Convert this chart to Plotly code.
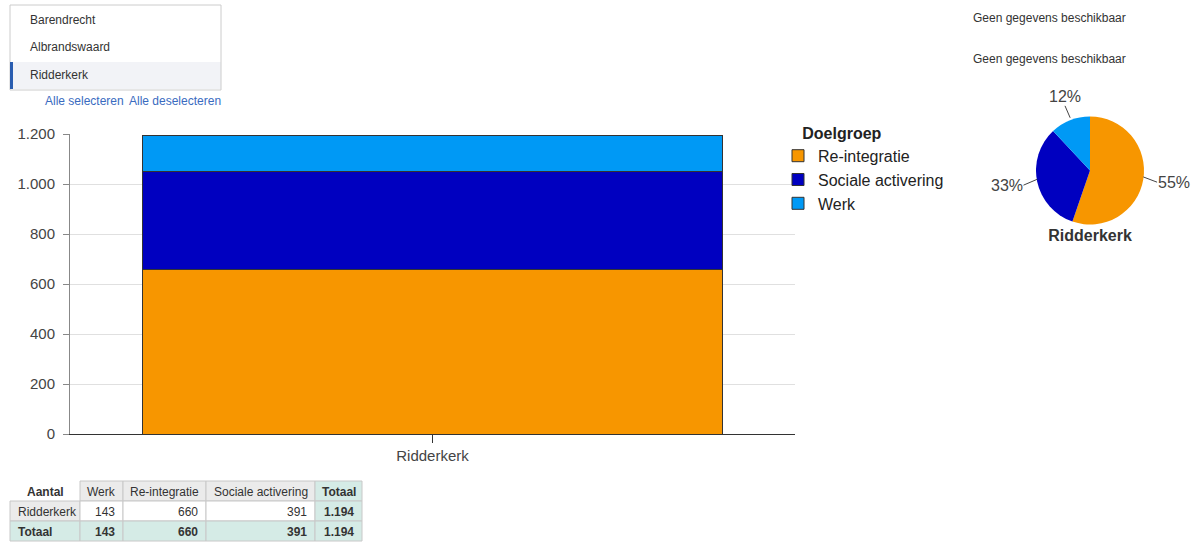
import math
import plotly.graph_objects as go

W, H = 1192, 542

# ---------------- data ----------------
gemeenten = ["Barendrecht", "Albrandswaard", "Ridderkerk"]
categorie = ["Ridderkerk"]
doelgroepen = ["Re-integratie", "Sociale activering", "Werk"]
re_integratie = [660]
sociale_activering = [391]
werk = [143]
y_ticks = [0, 200, 400, 600, 800, 1000, 1200]
kleuren = {"Re-integratie": "#f79600", "Sociale activering": "#0000c0", "Werk": "#0099f5"}
tabel_kolommen = ["Aantal", "Werk", "Re-integratie", "Sociale activering", "Totaal"]


def px_x(p):
    return p / W


def px_y(p):
    return 1 - p / H


def nl(v):
    return f"{v:,}".replace(",", ".")


fig = go.Figure()

series = {"Re-integratie": re_integratie, "Sociale activering": sociale_activering, "Werk": werk}
for name in doelgroepen:
    fig.add_trace(go.Bar(
        x=categorie, y=series[name], name=name,
        marker=dict(color=kleuren[name], line=dict(color="#333333", width=1)),
        width=0.8, hoverinfo="skip",
    ))

# ---------------- pie ----------------
PIE_CX, PIE_CY, PIE_R = 1090, 168, 54
TITLE_H = 22
pie_vals = [re_integratie[0], sociale_activering[0], werk[0]]
fig.add_trace(go.Pie(
    labels=doelgroepen, values=pie_vals, sort=False, direction="clockwise", rotation=0,
    marker=dict(colors=[kleuren[n] for n in doelgroepen]),
    textinfo="none", showlegend=False, hoverinfo="skip",
    title=dict(text="<b>Ridderkerk</b>", position="bottom center",
               font=dict(family="Arial", size=16, color="#333333")),
    domain=dict(x=[px_x(PIE_CX - PIE_R), px_x(PIE_CX + PIE_R)],
                y=[px_y(PIE_CY + PIE_R + TITLE_H), px_y(PIE_CY - PIE_R)]),
))

annotations = []
shapes = []
tot = sum(pie_vals)
cum = 0
for v in pie_vals:
    mid = (cum + v / 2) / tot * 2 * math.pi
    cum += v
    s, c = math.sin(mid), math.cos(mid)
    ex, ey = PIE_CX + PIE_R * s, PIE_CY - PIE_R * c
    xa = "left" if s > 0.5 else ("right" if s < -0.5 else "center")
    ya = "bottom" if c > 0.5 else ("top" if c < -0.5 else "middle")
    annotations.append(dict(
        text=f"{round(100 * v / tot)}%", x=px_x(ex), y=px_y(ey), xref="paper", yref="paper",
        showarrow=True, arrowhead=0, arrowwidth=1, arrowcolor="#444444",
        ax=14 * s, ay=-14 * c + 3 * abs(s), axref="pixel", ayref="pixel",
        xanchor=xa, yanchor=ya, borderpad=0,
        font=dict(family="Arial", size=16, color="#444444"),
    ))

# ---------------- table (cells laid out from column widths) ----------------
TEAL = "#d5ebe6"
GREY = "#ebebeb"
LINE = "#c8c8c8"
TXT = "#333333"
COL_W = [70, 43, 83, 109, 47]
TX0, TY0, ROW_H = 10, 481, 20
totaal_rij = werk[0] + re_integratie[0] + sociale_activering[0]
rows = [
    tabel_kolommen,
    [categorie[0], nl(werk[0]), nl(re_integratie[0]), nl(sociale_activering[0]), nl(totaal_rij)],
    ["Totaal", nl(sum(werk)), nl(sum(re_integratie)), nl(sum(sociale_activering)), nl(totaal_rij)],
]
fills = [
    ["white", GREY, GREY, GREY, TEAL],
    [GREY, "white", "white", "white", TEAL],
    [TEAL, TEAL, TEAL, TEAL, TEAL],
]
bold = [
    [True, False, False, False, True],
    [False, False, False, False, True],
    [True, True, True, True, True],
]
edges = [TX0]
for w in COL_W:
    edges.append(edges[-1] + w)
for r, row in enumerate(rows):
    y0, y1 = TY0 + r * ROW_H, TY0 + (r + 1) * ROW_H
    for ci, val in enumerate(row):
        x0, x1 = edges[ci], edges[ci + 1]
        border = "rgba(0,0,0,0)" if (r == 0 and ci == 0) else LINE
        shapes.append(dict(type="rect", xref="paper", yref="paper",
                           x0=px_x(x0), x1=px_x(x1), y0=px_y(y1), y1=px_y(y0),
                           fillcolor=fills[r][ci], line=dict(color=border, width=1)))
        if r == 0:
            ax_, xa = (x0 + x1) / 2, "center"
        elif ci == 0:
            ax_, xa = x0 + 6, "left"
        else:
            ax_, xa = x1 - 6, "right"
        annotations.append(dict(text=f"<b>{val}</b>" if bold[r][ci] else val,
                                x=px_x(ax_), y=px_y((y0 + y1) / 2 + 0.5), xref="paper", yref="paper",
                                xanchor=xa, yanchor="middle", showarrow=False,
                                font=dict(family="Arial", size=12, color=TXT)))

# ---------------- selection list (UI) ----------------
shapes.append(dict(type="rect", xref="paper", yref="paper", x0=px_x(10), x1=px_x(221), y0=px_y(62), y1=px_y(89),
                   fillcolor="#f2f3f7", line=dict(width=0), layer="below"))
shapes.append(dict(type="rect", xref="paper", yref="paper", x0=px_x(10), x1=px_x(221), y0=px_y(90), y1=px_y(5),
                   fillcolor="rgba(0,0,0,0)", line=dict(color="#cccccc", width=1)))
shapes.append(dict(type="rect", xref="paper", yref="paper", x0=px_x(10), x1=px_x(13), y0=px_y(62), y1=px_y(89),
                   fillcolor="#2a5db0", line=dict(width=0)))
for i, g in enumerate(gemeenten):
    annotations.append(dict(text=g, x=px_x(28), y=px_y(20 + 27.5 * i), xref="paper", yref="paper",
                            xanchor="left", yanchor="middle", showarrow=False,
                            font=dict(family="Arial", size=12, color="#333333")))
annotations.append(dict(text="Alle selecteren", x=px_x(43), y=px_y(101), xref="paper", yref="paper",
                        xanchor="left", yanchor="middle", showarrow=False,
                        font=dict(family="Arial", size=12, color="#3a6bbf")))
annotations.append(dict(text="Alle deselecteren", x=px_x(223), y=px_y(101), xref="paper", yref="paper",
                        xanchor="right", yanchor="middle", showarrow=False,
                        font=dict(family="Arial", size=12, color="#3a6bbf")))
for yy in (18, 59):
    annotations.append(dict(text="Geen gegevens beschikbaar", x=px_x(971), y=px_y(yy), xref="paper", yref="paper",
                            xanchor="left", yanchor="middle", showarrow=False,
                            font=dict(family="Arial", size=12, color="#333333")))

fig.update_layout(
    width=W, height=H, margin=dict(l=0, r=0, t=0, b=0, pad=0, autoexpand=False),
    paper_bgcolor="white", plot_bgcolor="white",
    barmode="stack", separators=",.",
    font=dict(family="Arial", color="#444444"),
    xaxis=dict(domain=[px_x(70), px_x(795)], showline=True, linecolor="#333333", linewidth=1,
               ticks="outside", ticklen=8, tickcolor="#333333", automargin=False, ticklabelstandoff=0,
               tickfont=dict(family="Arial", size=15, color="#444444"), fixedrange=True),
    yaxis=dict(domain=[px_y(434), px_y(134)], range=[0, 1200], tickvals=y_ticks,
               tickformat=",d", showline=True, linecolor="#888888", linewidth=1,
               ticks="outside", ticklen=6, tickcolor="#888888", automargin=False, ticklabelstandoff=5,
               gridcolor="#e0e0e0", zeroline=False,
               tickfont=dict(family="Arial", size=15, color="#444444"), fixedrange=True),
    legend=dict(x=px_x(778), y=px_y(118), xanchor="left", yanchor="top", traceorder="normal",
                title=dict(text="\u00a0" * 5 + "<b>Doelgroep</b>",
                           font=dict(family="Arial", size=16, color="#222222")),
                font=dict(family="Arial", size=16, color="#222222"),
                itemwidth=30, tracegroupgap=0, bgcolor="rgba(0,0,0,0)"),
    shapes=shapes, annotations=annotations,
)

fig.write_html("out.html", post_script="document.body.style.margin='0';document.body.style.overflow='hidden';",
               config={"displayModeBar": False})
